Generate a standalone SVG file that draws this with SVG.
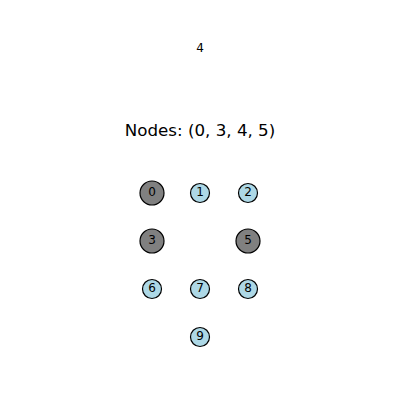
<svg xmlns="http://www.w3.org/2000/svg" width="400" height="400" viewBox="0 0 400 400">
<style>
text{font-family:"DejaVu Sans",sans-serif;text-anchor:middle;fill:#000}
.sel{fill:#808080;stroke:#000;stroke-width:1.2}
.un{fill:#add8e6;stroke:#000;stroke-width:1.2}
.lbl{font-size:12px}
</style>
<rect width="400" height="400" fill="#fff"/>
<g id="connectors"></g>
<g id="node4"><text class="lbl" x="200" y="51.5" font-size="11">4</text></g>
<text x="200" y="136" font-size="16.7">Nodes: (0, 3, 4, 5)</text>
<g id="node0"><circle class="sel" cx="152" cy="193" r="12"/><text class="lbl" x="152" y="196">0</text></g>
<g id="node1"><circle class="un" cx="200" cy="193" r="9.5"/><text class="lbl" x="200" y="196">1</text></g>
<g id="node2"><circle class="un" cx="248" cy="193" r="9.5"/><text class="lbl" x="248" y="196">2</text></g>
<g id="node3"><circle class="sel" cx="152" cy="241" r="12"/><text class="lbl" x="152" y="244">3</text></g>
<g id="node5"><circle class="sel" cx="248" cy="241" r="12"/><text class="lbl" x="248" y="244">5</text></g>
<g id="node6"><circle class="un" cx="152" cy="289" r="9.5"/><text class="lbl" x="152" y="292">6</text></g>
<g id="node7"><circle class="un" cx="200" cy="289" r="9.5"/><text class="lbl" x="200" y="292">7</text></g>
<g id="node8"><circle class="un" cx="248" cy="289" r="9.5"/><text class="lbl" x="248" y="292">8</text></g>
<g id="node9"><circle class="un" cx="200" cy="337" r="9.5"/><text class="lbl" x="200" y="340">9</text></g>
</svg>
